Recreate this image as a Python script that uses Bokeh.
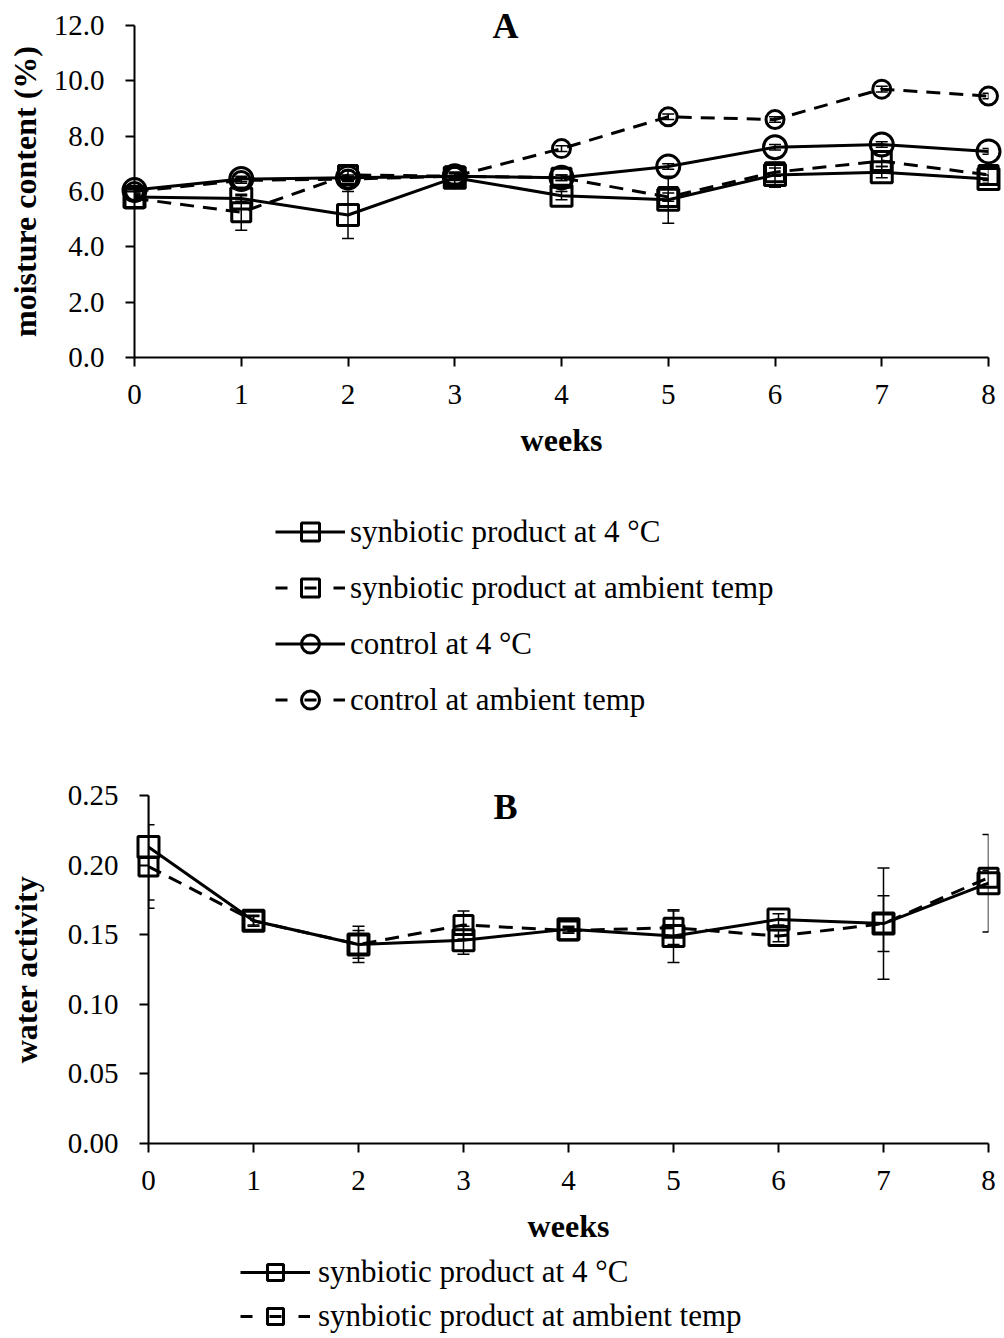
from bokeh.plotting import figure
from bokeh.models import (ColumnDataSource, Range1d, Legend, LegendItem, Whisker,
                          TeeHead, FixedTicker, NumeralTickFormatter)
from bokeh.core.properties import value
from bokeh.layouts import column
from bokeh.embed import file_html
from bokeh.resources import INLINE

# ---- data -------------------------------------------------------------
weeks = [0, 1, 2, 3, 4, 5, 6, 7, 8]

# A: moisture content (%)
moist_syn_4c = [5.80, 5.75, 5.15, 6.50, 5.85, 5.70, 6.60, 6.70, 6.45]
moist_syn_4c_sd = [0.10, 0.10, 0.85, 0.20, 0.15, 0.85, 0.45, 0.20, 0.15]
moist_syn_amb = [5.75, 5.25, 6.60, 6.55, 6.50, 5.80, 6.70, 7.10, 6.60]
moist_syn_amb_sd = [0.10, 0.65, 0.15, 0.15, 0.10, 0.15, 0.15, 0.20, 0.20]
moist_ctrl_4c = [6.05, 6.45, 6.50, 6.55, 6.50, 6.90, 7.60, 7.70, 7.45]
moist_ctrl_4c_sd = [0.10, 0.10, 0.10, 0.10, 0.10, 0.10, 0.10, 0.10, 0.10]
moist_ctrl_amb = [6.00, 6.40, 6.45, 6.55, 7.55, 8.70, 8.60, 9.70, 9.45]
moist_ctrl_amb_sd = [0.10, 0.10, 0.10, 0.10, 0.10, 0.10, 0.10, 0.10, 0.10]

# B: water activity
aw_syn_4c = [0.213, 0.160, 0.143, 0.146, 0.154, 0.149, 0.161, 0.158, 0.187]
aw_syn_4c_sd = [0.038, 0.003, 0.013, 0.010, 0.002, 0.019, 0.004, 0.040, 0.035]
aw_syn_amb = [0.199, 0.160, 0.143, 0.157, 0.153, 0.155, 0.149, 0.158, 0.191]
aw_syn_amb_sd = [0.030, 0.004, 0.010, 0.010, 0.002, 0.012, 0.004, 0.020, 0.005]

moist_ticks = [0, 2, 4, 6, 8, 10, 12]
aw_ticks = [0.00, 0.05, 0.10, 0.15, 0.20, 0.25]

labels_a = ["synbiotic product at 4 \u00b0C", "synbiotic product at ambient temp",
            "control at 4 \u00b0C", "control at ambient temp"]
labels_b = ["synbiotic product at 4 \u00b0C", "synbiotic product at ambient temp"]

SERIF = "Liberation Serif"
DASH = "14 9"
KEY_DASH = "12 17 12 17 12"   # dash - marker - dash inside a 70 px key swatch

# series styles: (dashed, marker, size)
styles_a = [(False, "square", 21), (True, "square", 19),
            (False, "circle", 23), (True, "circle", 18)]
styles_b = [(False, "square", 21), (True, "square", 19)]


def style_axes(p, yticks, yfmt):
    p.frame_align = False
    p.xgrid.visible = False
    p.ygrid.visible = False
    p.outline_line_color = None
    p.background_fill_color = "white"
    p.border_fill_color = "white"
    p.xaxis.ticker = FixedTicker(ticks=weeks)
    p.yaxis.ticker = FixedTicker(ticks=yticks)
    p.yaxis.formatter = NumeralTickFormatter(format=yfmt)
    for ax in (p.xaxis, p.yaxis):
        ax.axis_line_width = 2
        ax.axis_line_color = "black"
        ax.major_tick_line_width = 2
        ax.major_tick_line_color = "black"
        ax.major_tick_in = 0
        ax.major_tick_out = 9
        ax.minor_tick_line_color = None
        ax.major_label_text_font = SERIF
        ax.major_label_text_font_size = "29px"
        ax.major_label_text_color = "black"
        ax.axis_label_text_font = SERIF
        ax.axis_label_text_font_style = "bold"
        ax.axis_label_text_font_size = "32px"
        ax.axis_label_text_color = "black"
    p.xaxis.major_label_standoff = 18
    p.xaxis.axis_label_standoff = 15
    p.yaxis.major_label_standoff = 21
    p.xaxis.axis_label = "weeks"


def make_source(ys, sd):
    return ColumnDataSource(dict(x=weeks, y=ys,
                                 lo=[v - e for v, e in zip(ys, sd)],
                                 hi=[v + e for v, e in zip(ys, sd)]))


def draw_series(p, src, dashed, marker, size, dash=DASH):
    ln = p.line("x", "y", source=src, line_color="black", line_width=3,
                line_dash=dash if dashed else "solid")
    sc = p.scatter("x", "y", source=src, marker=marker, size=size,
                   fill_color=None, line_color="black", line_width=3)
    sc.level = "overlay"
    return [ln, sc]


def add_series(p, src, dashed, marker, size):
    draw_series(p, src, dashed, marker, size)
    wh = Whisker(source=src, base="x", lower="lo", upper="hi",
                 line_color="black", line_width=1.5,
                 upper_head=TeeHead(size=12, line_width=1.5, line_color="black"),
                 lower_head=TeeHead(size=12, line_width=1.5, line_color="black"))
    wh.level = "overlay"
    p.add_layout(wh)


def legend_figure(height, labels, sources, styles, loc, glyph_h, gap, standoff):
    # frame-only figure holding the key for the panel above it; the series
    # renderers here are hidden and only supply the key swatches
    lp = figure(width=1004, height=height, output_backend="svg", toolbar_location=None,
                x_range=Range1d(0, 1), y_range=Range1d(0, 1),
                x_axis_type=None, y_axis_type=None, min_border=0)
    lp.frame_align = False
    lp.outline_line_color = None
    lp.grid.visible = False
    items = []
    for lab, src, (dashed, marker, size) in zip(labels, sources, styles):
        rs = draw_series(lp, src, dashed, marker, size, dash=KEY_DASH)
        for r in rs:
            r.visible = False
        items.append(LegendItem(label=lab, renderers=rs))
    lp.add_layout(Legend(items=items, location=loc, orientation="vertical",
                         glyph_width=70, glyph_height=glyph_h, spacing=gap, padding=0,
                         margin=0, label_standoff=standoff, label_text_font=SERIF,
                         label_text_font_size="31px", label_text_color="black",
                         border_line_color=None, background_fill_alpha=0,
                         inactive_fill_alpha=0))
    return lp


def panel_title(p, x, y, t):
    r = p.text(x=[x], y=[y], text=[t], text_font=value(SERIF),
               text_font_style="bold", text_font_size="36px", text_color="black",
               text_align="center", text_baseline="middle")
    r.level = "overlay"


# ---- panel A ----------------------------------------------------------
pa = figure(width=1004, height=465, output_backend="svg", toolbar_location=None,
            x_range=Range1d(0, 8), y_range=Range1d(0, 12),
            min_border_left=134, min_border_right=16,
            min_border_top=25, min_border_bottom=108)
style_axes(pa, moist_ticks, "0.0")
pa.yaxis.axis_label = "moisture content (%)"
pa.yaxis.axis_label_standoff = 8

src_a = [make_source(moist_syn_4c, moist_syn_4c_sd),
         make_source(moist_syn_amb, moist_syn_amb_sd),
         make_source(moist_ctrl_4c, moist_ctrl_4c_sd),
         make_source(moist_ctrl_amb, moist_ctrl_amb_sd)]
for src, st in zip(src_a, styles_a):
    add_series(pa, src, *st)
panel_title(pa, 3.475, 12, "A")

leg_a = legend_figure(295, labels_a, src_a, styles_a, (275, 38), 45, 11, 5)

# ---- panel B ----------------------------------------------------------
pb = figure(width=1004, height=488, output_backend="svg", toolbar_location=None,
            x_range=Range1d(0, 8), y_range=Range1d(0, 0.25),
            min_border_left=148, min_border_right=16,
            min_border_top=35, min_border_bottom=105)
style_axes(pb, aw_ticks, "0.00")
pb.yaxis.axis_label = "water activity"
pb.yaxis.axis_label_standoff = 21

src_b = [make_source(aw_syn_4c, aw_syn_4c_sd), make_source(aw_syn_amb, aw_syn_amb_sd)]
for src, st in zip(src_b, styles_b):
    add_series(pb, src, *st)
panel_title(pb, 3.40, 0.242, "B")

leg_b = legend_figure(90, labels_b, src_b, styles_b, (240, 2), 40, 4, 8)

layout = column(pa, leg_a, pb, leg_b, spacing=0)
open("out.html", "w").write(file_html(layout, INLINE))
